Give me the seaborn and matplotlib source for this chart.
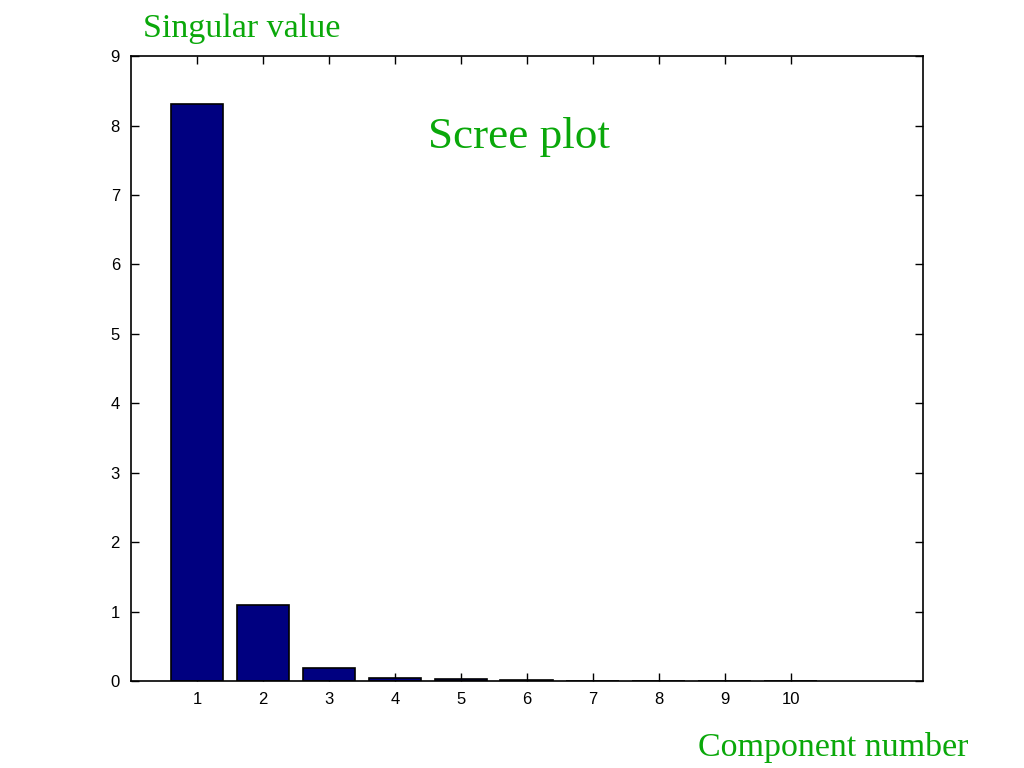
import numpy as np
import pandas as pd
import seaborn as sns
import matplotlib.pyplot as plt

# scree plot data
component = [1, 2, 3, 4, 5, 6, 7, 8, 9, 10]
singular_value = [8.31, 1.10, 0.19, 0.05, 0.025, 0.02, 0.006, 0.004, 0.003, 0.002]
yticks = [0, 1, 2, 3, 4, 5, 6, 7, 8, 9]

df = pd.DataFrame({'component': component, 'value': singular_value})

sns.set_style('ticks')
plt.rcParams['font.family'] = ['Liberation Sans', 'DejaVu Sans']
green = '#0aa80a'

fig = plt.figure(figsize=(10.24, 7.68), dpi=100)
ax = fig.add_axes([0.128, 0.113, 0.773, 0.814])

sns.barplot(data=df, x='component', y='value', native_scale=True, width=0.8,
            color='#000080', saturation=1, edgecolor='black', linewidth=1.2, ax=ax)

ax.set_xlim(0, 12)
ax.set_ylim(0, 9)
ax.set_xticks(component)
ax.set_yticks(yticks)
ax.tick_params(direction='in', length=6, width=1, top=True, right=True,
               labelsize=12, colors='black', pad=8)
for s in ax.spines.values():
    s.set_visible(True)
    s.set_linewidth(1.2)
    s.set_color('black')
ax.set_xlabel('')
ax.set_ylabel('')

fig.text(0.236, 0.963, 'Singular value', color=green, fontsize=24.5,
         family='Liberation Serif', ha='center', va='center')
fig.text(0.507, 0.822, 'Scree plot', color=green, fontsize=32.5,
         family='Liberation Serif', ha='center', va='center')
fig.text(0.814, 0.027, 'Component number', color=green, fontsize=24.5,
         family='Liberation Serif', ha='center', va='center')

fig.savefig('out.png', dpi=100)
